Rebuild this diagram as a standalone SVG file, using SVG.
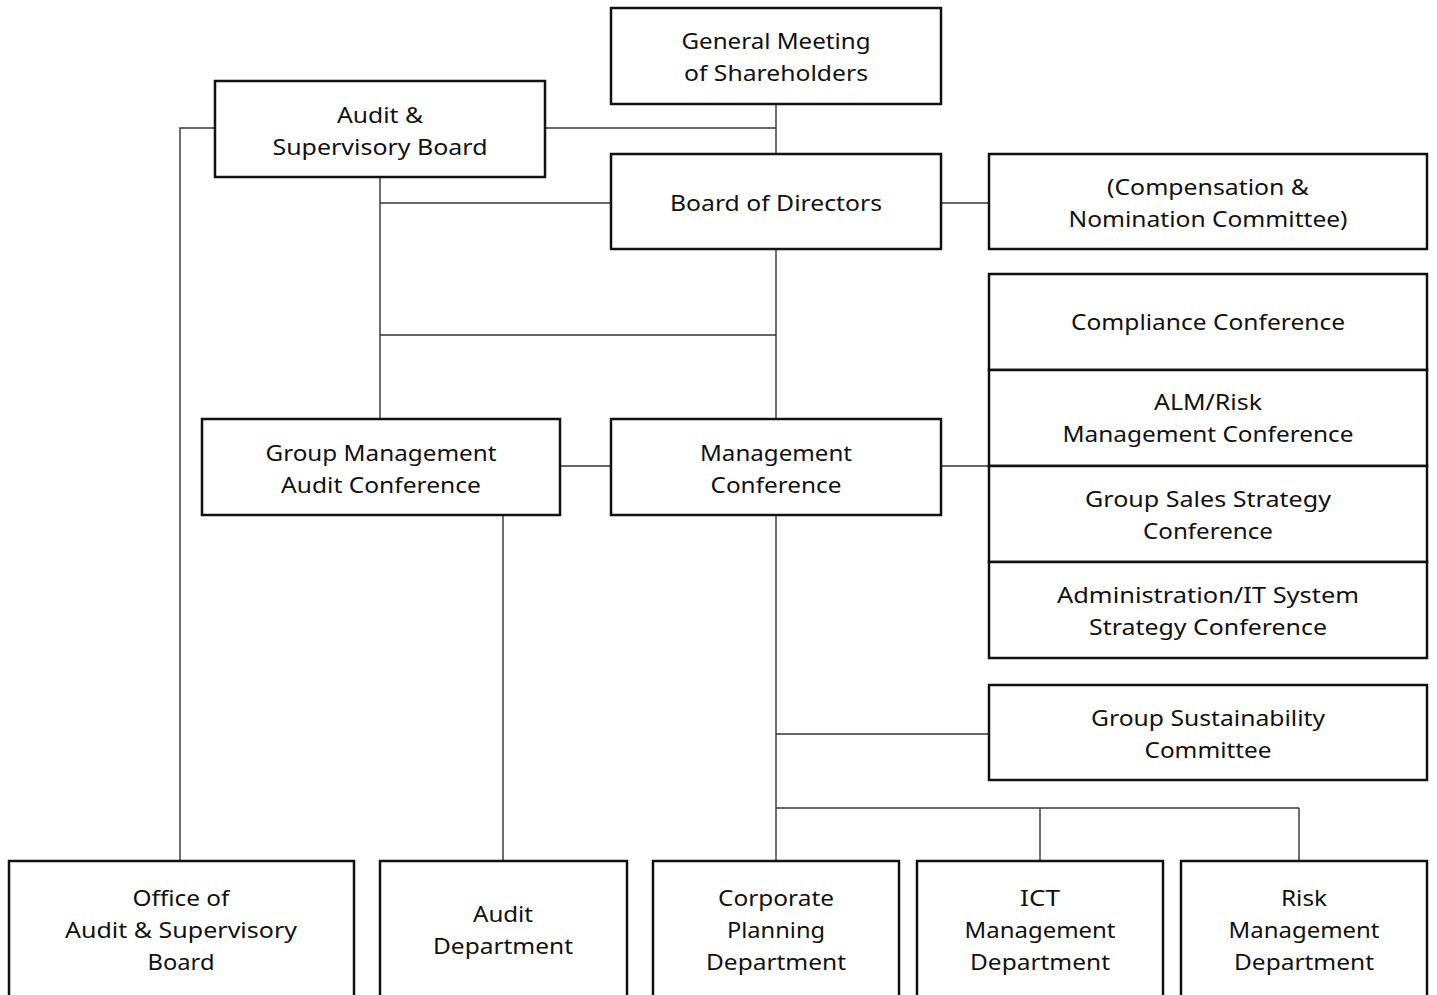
<svg xmlns="http://www.w3.org/2000/svg" width="1437" height="995" viewBox="0 0 1437 995">
<style>
.box{fill:#fff;stroke:#111;stroke-width:2.5}
.c{fill:none;stroke:#333;stroke-width:1.4}
text{font-family:"Noto Sans","DejaVu Sans",sans-serif;font-size:22px;fill:#111;text-anchor:middle;dominant-baseline:central}
</style>
<rect width="1437" height="995" fill="#fff"/>
<g id="connectors">
<path class="c" d="M776 104V154M545 128H776M215 128H180V861M380 177V419M380 203H611M776 249V419M380 335H776M941 203H989M560 466H611M941 466H989M503 515V861M776 515V861M776 734H989M776 808H1299M1040 808V861M1299 808V861"/>
</g>
<g id="general-meeting"><rect class="box" x="611" y="8" width="330" height="96"/>
<text x="776" y="40" textLength="189" lengthAdjust="spacingAndGlyphs">General Meeting</text>
<text x="776" y="72" textLength="184" lengthAdjust="spacingAndGlyphs">of Shareholders</text></g>
<g id="audit-supervisory-board"><rect class="box" x="215" y="81" width="330" height="96"/>
<text x="380" y="114" textLength="86" lengthAdjust="spacingAndGlyphs">Audit &amp;</text>
<text x="380" y="146" textLength="215" lengthAdjust="spacingAndGlyphs">Supervisory Board</text></g>
<g id="board-of-directors"><rect class="box" x="611" y="154" width="330" height="95"/>
<text x="776" y="202" textLength="212" lengthAdjust="spacingAndGlyphs">Board of Directors</text></g>
<g id="compensation"><rect class="box" x="989" y="154" width="438" height="95"/>
<text x="1208" y="186" textLength="202" lengthAdjust="spacingAndGlyphs">(Compensation &amp;</text>
<text x="1208" y="218" textLength="279" lengthAdjust="spacingAndGlyphs">Nomination Committee)</text></g>
<g id="compliance"><rect class="box" x="989" y="274" width="438" height="96"/>
<text x="1208" y="321" textLength="274" lengthAdjust="spacingAndGlyphs">Compliance Conference</text></g>
<g id="alm-risk"><rect class="box" x="989" y="370" width="438" height="96"/>
<text x="1208" y="401" textLength="108" lengthAdjust="spacingAndGlyphs">ALM/Risk</text>
<text x="1208" y="433" textLength="291" lengthAdjust="spacingAndGlyphs">Management Conference</text></g>
<g id="group-sales"><rect class="box" x="989" y="466" width="438" height="96"/>
<text x="1208" y="498" textLength="246" lengthAdjust="spacingAndGlyphs">Group Sales Strategy</text>
<text x="1208" y="530" textLength="130" lengthAdjust="spacingAndGlyphs">Conference</text></g>
<g id="admin-it"><rect class="box" x="989" y="562" width="438" height="96"/>
<text x="1208" y="594" textLength="302" lengthAdjust="spacingAndGlyphs">Administration/IT System</text>
<text x="1208" y="626" textLength="238" lengthAdjust="spacingAndGlyphs">Strategy Conference</text></g>
<g id="group-mgmt-audit"><rect class="box" x="202" y="419" width="358" height="96"/>
<text x="381" y="452" textLength="231" lengthAdjust="spacingAndGlyphs">Group Management</text>
<text x="381" y="484" textLength="200" lengthAdjust="spacingAndGlyphs">Audit Conference</text></g>
<g id="management-conference"><rect class="box" x="611" y="419" width="330" height="96"/>
<text x="776" y="452" textLength="152" lengthAdjust="spacingAndGlyphs">Management</text>
<text x="776" y="484" textLength="131" lengthAdjust="spacingAndGlyphs">Conference</text></g>
<g id="sustainability"><rect class="box" x="989" y="685" width="438" height="95"/>
<text x="1208" y="717" textLength="234" lengthAdjust="spacingAndGlyphs">Group Sustainability</text>
<text x="1208" y="749" textLength="127" lengthAdjust="spacingAndGlyphs">Committee</text></g>
<g id="office-asb"><rect class="box" x="9" y="861" width="345" height="150"/>
<text x="181" y="897" textLength="97" lengthAdjust="spacingAndGlyphs">Office of</text>
<text x="181" y="929" textLength="232" lengthAdjust="spacingAndGlyphs">Audit &amp; Supervisory</text>
<text x="181" y="961" textLength="67" lengthAdjust="spacingAndGlyphs">Board</text></g>
<g id="audit-dept"><rect class="box" x="380" y="861" width="247" height="150"/>
<text x="503" y="913" textLength="60" lengthAdjust="spacingAndGlyphs">Audit</text>
<text x="503" y="945" textLength="140" lengthAdjust="spacingAndGlyphs">Department</text></g>
<g id="corporate-planning"><rect class="box" x="653" y="861" width="246" height="150"/>
<text x="776" y="897" textLength="116" lengthAdjust="spacingAndGlyphs">Corporate</text>
<text x="776" y="929" textLength="98" lengthAdjust="spacingAndGlyphs">Planning</text>
<text x="776" y="961" textLength="140" lengthAdjust="spacingAndGlyphs">Department</text></g>
<g id="ict-mgmt"><rect class="box" x="917" y="861" width="246" height="150"/>
<text x="1040" y="897" textLength="40" lengthAdjust="spacingAndGlyphs">ICT</text>
<text x="1040" y="929" textLength="151" lengthAdjust="spacingAndGlyphs">Management</text>
<text x="1040" y="961" textLength="140" lengthAdjust="spacingAndGlyphs">Department</text></g>
<g id="risk-mgmt"><rect class="box" x="1181" y="861" width="246" height="150"/>
<text x="1304" y="897" textLength="46" lengthAdjust="spacingAndGlyphs">Risk</text>
<text x="1304" y="929" textLength="151" lengthAdjust="spacingAndGlyphs">Management</text>
<text x="1304" y="961" textLength="140" lengthAdjust="spacingAndGlyphs">Department</text></g>
</svg>
